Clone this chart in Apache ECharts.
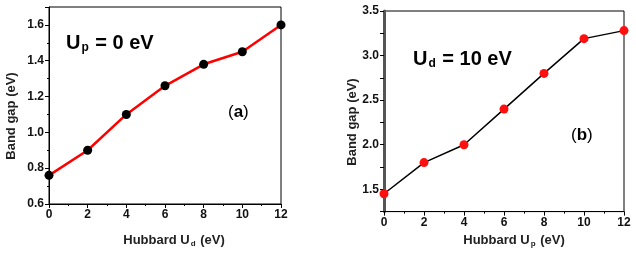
<!DOCTYPE html>
<html lang="en">
<head>
<meta charset="UTF-8">
<title>Band gap</title>
<style>
html, body { margin: 0; padding: 0; background: #fff; }
#chart { width: 636px; height: 253px; }
</style>
</head>
<body>
<div id="chart"></div>
<script src="https://cdn.jsdelivr.net/npm/echarts@6/dist/echarts.min.js"></script>
<script>
// data
var hubbardU = [0, 2, 4, 6, 8, 10, 12];
var gapA = [0.76, 0.90, 1.10, 1.26, 1.38, 1.45, 1.60];   // Up = 0 eV, vary Ud
var gapB = [1.45, 1.80, 2.00, 2.40, 2.80, 3.19, 3.28];   // Ud = 10 eV, vary Up
var xTicks = [0, 2, 4, 6, 8, 10, 12];
var yTicksA = [0.6, 0.8, 1.0, 1.2, 1.4, 1.6];
var yTicksB = [1.5, 2.0, 2.5, 3.0, 3.5];

function pairs(xs, ys) {
    return xs.map(function (x, i) { return [x, ys[i]]; });
}

function onList(list) {
    return function (v) {
        return list.some(function (t) { return Math.abs(t - v) < 1e-6; }) ? String(+v.toFixed(1)) : '';
    };
}

var font = 'Liberation Sans, Arial, sans-serif';
var lblStyle = { color: '#111', fontWeight: 'bold', fontSize: 12, fontFamily: font };

function xAx(grid, sub, gap, pad) {
    return {
        type: 'value', gridIndex: grid, min: 0, max: 12, interval: 2,
        axisLine: { lineStyle: { color: '#000', width: 1 } },
        axisTick: { length: 4, lineStyle: { color: '#000' } },
        minorTick: { show: true, splitNumber: 2, length: 2, lineStyle: { color: '#000' } },
        splitLine: { show: false },
        axisLabel: Object.assign({ margin: 5, formatter: onList(xTicks) }, lblStyle),
        name: '{t|Hubbard U}{s|' + sub + '}{t| (eV)}',
        nameLocation: 'middle', nameGap: gap,
        nameTextStyle: {
            padding: pad,
            rich: {
                t: { fontSize: 13, fontWeight: 'bold', color: '#222', fontFamily: font },
                s: { fontSize: 8, fontWeight: 'bold', color: '#222', fontFamily: font, padding: [8, 1, 0, 1] }
            }
        }
    };
}

function yTitle(x, y) {
    return {
        type: 'text', x: x, y: y, rotation: Math.PI / 2,
        style: {
            text: 'Band gap (eV)', align: 'center', verticalAlign: 'middle',
            fontSize: 13, fontWeight: 'bold', fill: '#222', fontFamily: font
        }
    };
}

var option = {
    animation: false,
    backgroundColor: '#fff',
    grid: [
        { left: 49, right: 355, top: 7, bottom: 45, show: true, borderColor: '#000', borderWidth: 1 },
        { left: 384, right: 12, top: 11, bottom: 35, show: true, borderColor: '#000', borderWidth: 1 }
    ],
    xAxis: [
        xAx(0, 'd', 28, [0, 0, 0, 18]),
        xAx(1, 'p', 16, [0, 0, 0, 20])
    ],
    yAxis: [
        {
            type: 'value', gridIndex: 0, min: 0.6, max: 1.7, interval: 0.2,
            axisLine: { show: true, lineStyle: { color: '#000' } },
            axisTick: { show: true, length: 4, lineStyle: { color: '#000' } },
            minorTick: { show: true, splitNumber: 2, length: 2, lineStyle: { color: '#000' } },
            splitLine: { show: false },
            axisLabel: Object.assign({ margin: 5, showMaxLabel: false, formatter: function (v) {
                return onList(yTicksA)(v) ? v.toFixed(1) : ''; } }, lblStyle)
        },
        {
            type: 'value', gridIndex: 1, min: 1.25, max: 3.5, interval: 0.25,
            axisLine: { show: true, lineStyle: { color: '#555', width: 3 } },
            axisTick: { show: true, length: 4, lineStyle: { color: '#000' } },
            splitLine: { show: false },
            axisLabel: Object.assign({ margin: 5, formatter: function (v) {
                return onList(yTicksB)(v) ? v.toFixed(1) : ''; } }, lblStyle)
        }
    ],
    series: [
        {
            type: 'line', xAxisIndex: 0, yAxisIndex: 0, data: pairs(hubbardU, gapA),
            lineStyle: { color: '#ff0000', width: 2.5 },
            symbol: 'circle', symbolSize: 9,
            itemStyle: { color: '#000' }
        },
        {
            type: 'line', xAxisIndex: 1, yAxisIndex: 1, data: pairs(hubbardU, gapB),
            lineStyle: { color: '#000', width: 1.5 },
            symbol: 'circle', symbolSize: 9,
            itemStyle: { color: '#ff1010' }
        }
    ],
    graphic: [
        yTitle(11, 116),
        yTitle(352, 122),
        {
            type: 'text', left: 66, top: 33,
            style: {
                text: '{b|U}{s|p}{b| = 0 eV}',
                rich: {
                    b: { fontSize: 20, fontWeight: 'bold', fill: '#000', fontFamily: font },
                    s: { fontSize: 12, fontWeight: 'bold', fill: '#000', fontFamily: font, padding: [10, 1, 0, 1] }
                }
            }
        },
        {
            type: 'text', left: 413, top: 49,
            style: {
                text: '{b|U}{s|d}{b| = 10 eV}',
                rich: {
                    b: { fontSize: 20, fontWeight: 'bold', fill: '#000', fontFamily: font },
                    s: { fontSize: 12, fontWeight: 'bold', fill: '#000', fontFamily: font, padding: [10, 1, 0, 1] }
                }
            }
        },
        {
            type: 'text', left: 228, top: 104,
            style: {
                text: '{n|(}{b|a}{n|)}',
                rich: {
                    n: { fontSize: 17, fill: '#000', fontFamily: font },
                    b: { fontSize: 17, fontWeight: 'bold', fill: '#000', fontFamily: font }
                }
            }
        },
        {
            type: 'text', left: 571, top: 127,
            style: {
                text: '{n|(}{b|b}{n|)}',
                rich: {
                    n: { fontSize: 17, fill: '#000', fontFamily: font },
                    b: { fontSize: 17, fontWeight: 'bold', fill: '#000', fontFamily: font }
                }
            }
        }
    ]
};

var chart = echarts.init(document.getElementById('chart'));
chart.setOption(option);
</script>
</body>
</html>
